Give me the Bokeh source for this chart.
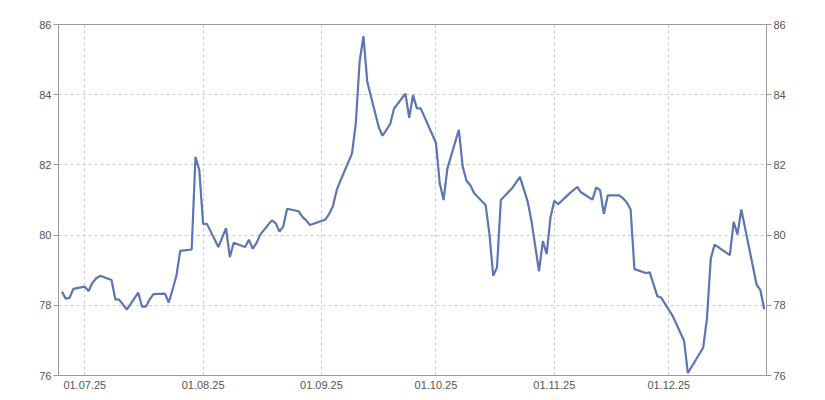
import pandas as pd
from bokeh.plotting import figure
from bokeh.models import ColumnDataSource, LinearAxis, FixedTicker, DatetimeTickFormatter, Range1d
from bokeh.embed import file_html
from bokeh.resources import INLINE

dates = [
    "2025-06-25", "2025-06-26", "2025-06-27", "2025-06-28",
    "2025-07-01", "2025-07-02", "2025-07-03", "2025-07-04", "2025-07-05",
    "2025-07-08", "2025-07-09", "2025-07-10", "2025-07-12",
    "2025-07-15", "2025-07-16", "2025-07-17", "2025-07-18", "2025-07-19",
    "2025-07-22", "2025-07-23", "2025-07-24", "2025-07-25", "2025-07-26",
    "2025-07-29", "2025-07-30", "2025-07-31",
    "2025-08-01", "2025-08-02", "2025-08-05", "2025-08-07", "2025-08-08", "2025-08-09",
    "2025-08-12", "2025-08-13", "2025-08-14", "2025-08-15", "2025-08-16",
    "2025-08-19", "2025-08-20", "2025-08-21", "2025-08-22", "2025-08-23",
    "2025-08-26", "2025-08-27", "2025-08-28", "2025-08-29",
    "2025-09-01", "2025-09-02", "2025-09-03", "2025-09-04", "2025-09-05", "2025-09-06",
    "2025-09-09", "2025-09-10", "2025-09-11", "2025-09-12", "2025-09-13",
    "2025-09-16", "2025-09-17", "2025-09-19", "2025-09-20",
    "2025-09-23", "2025-09-24", "2025-09-25", "2025-09-26", "2025-09-27",
    "2025-10-01", "2025-10-02", "2025-10-03", "2025-10-04",
    "2025-10-07", "2025-10-08", "2025-10-09", "2025-10-10", "2025-10-11",
    "2025-10-14", "2025-10-15", "2025-10-16", "2025-10-17", "2025-10-18",
    "2025-10-21", "2025-10-23", "2025-10-25", "2025-10-26",
    "2025-10-28", "2025-10-29", "2025-10-30", "2025-10-31", "2025-11-01", "2025-11-02",
    "2025-11-05", "2025-11-07", "2025-11-08",
    "2025-11-11", "2025-11-12", "2025-11-13", "2025-11-14", "2025-11-15",
    "2025-11-18", "2025-11-19", "2025-11-20", "2025-11-21", "2025-11-22",
    "2025-11-25", "2025-11-26", "2025-11-28", "2025-11-29",
    "2025-12-02", "2025-12-05", "2025-12-06",
    "2025-12-10", "2025-12-11", "2025-12-12", "2025-12-13",
    "2025-12-17", "2025-12-18", "2025-12-19", "2025-12-20",
    "2025-12-24", "2025-12-25", "2025-12-26",
]
rates = [
    78.39, 78.19, 78.21, 78.47,
    78.53, 78.41, 78.64, 78.77, 78.84,
    78.72, 78.17, 78.16, 77.88,
    78.36, 77.96, 77.96, 78.17, 78.32,
    78.33, 78.08, 78.45, 78.84, 79.55,
    79.59, 82.23, 81.85,
    80.32, 80.32, 79.66, 80.20, 79.37, 79.78,
    79.66, 79.87, 79.61, 79.78, 80.02,
    80.42, 80.34, 80.10, 80.25, 80.75,
    80.68, 80.52, 80.42, 80.29,
    80.40, 80.44, 80.60, 80.82, 81.28, 81.56,
    82.32, 83.18, 84.94, 85.67, 84.37,
    83.08, 82.83, 83.16, 83.60,
    84.03, 83.34, 83.99, 83.61, 83.61,
    82.63, 81.47, 81.00, 81.90,
    83.00, 81.95, 81.55, 81.42, 81.19,
    80.86, 80.04, 78.84, 79.08, 81.00,
    81.34, 81.66, 80.97, 80.42,
    78.97, 79.83, 79.46, 80.50, 80.98, 80.88,
    81.19, 81.37, 81.22,
    81.01, 81.36, 81.28, 80.60, 81.13,
    81.13, 81.05, 80.93, 80.73, 79.03,
    78.92, 78.94, 78.26, 78.22,
    77.70, 76.99, 76.07,
    76.79, 77.62, 79.33, 79.73,
    79.43, 80.38, 80.02, 80.73,
    78.59, 78.43, 77.89,
]
month_ticks = ["2025-07-01", "2025-08-01", "2025-09-01", "2025-10-01", "2025-11-01", "2025-12-01"]
y_ticks = [76, 78, 80, 82, 84, 86]

src = ColumnDataSource(data=dict(x=pd.to_datetime(dates), y=rates))

day_ms = 86400000
base = pd.Timestamp("2025-07-01").value // 10**6
x_start = base - 6.89 * day_ms
x_end = base + 178.6 * day_ms

p = figure(width=820, height=398, x_axis_type="datetime", output_backend="svg",
           toolbar_location=None, x_range=Range1d(x_start, x_end), y_range=Range1d(76, 86),
           min_border_left=58, min_border_right=54, min_border_top=24, min_border_bottom=23)
p.background_fill_color = "white"
p.border_fill_color = "white"
p.outline_line_color = "#9a9a9a"
p.outline_line_width = 1

p.line("x", "y", source=src, line_color="#5b76b2", line_width=2.2)

tick_ms = [pd.Timestamp(t).value // 10**6 for t in month_ticks]
p.xaxis.ticker = FixedTicker(ticks=tick_ms)
p.xaxis.formatter = DatetimeTickFormatter(days="%d.%m.%y", months="%d.%m.%y", years="%d.%m.%y")
p.yaxis.ticker = FixedTicker(ticks=y_ticks)

right = LinearAxis(ticker=FixedTicker(ticks=y_ticks))
p.add_layout(right, "right")

for ax in p.axis:
    ax.axis_line_color = "#9a9a9a"
    ax.major_tick_line_color = "#9a9a9a"
    ax.minor_tick_line_color = None
    ax.major_label_text_font = "Liberation Sans"
    ax.major_label_text_font_size = "11px"
    ax.major_label_text_color = "#555555"
    ax.major_tick_in = 0
    ax.major_tick_out = 5
    ax.major_label_standoff = 2

p.xaxis.major_tick_line_color = None
p.xaxis.major_tick_out = 0
p.xaxis.major_label_standoff = 5

p.xgrid.ticker = FixedTicker(ticks=tick_ms)
p.ygrid.ticker = FixedTicker(ticks=y_ticks)
for g in (p.xgrid, p.ygrid):
    g.grid_line_color = "#c8c8c8"
    g.grid_line_dash = "3 3"
    g.grid_line_width = 1

open("out.html", "w").write(file_html(p, INLINE))
